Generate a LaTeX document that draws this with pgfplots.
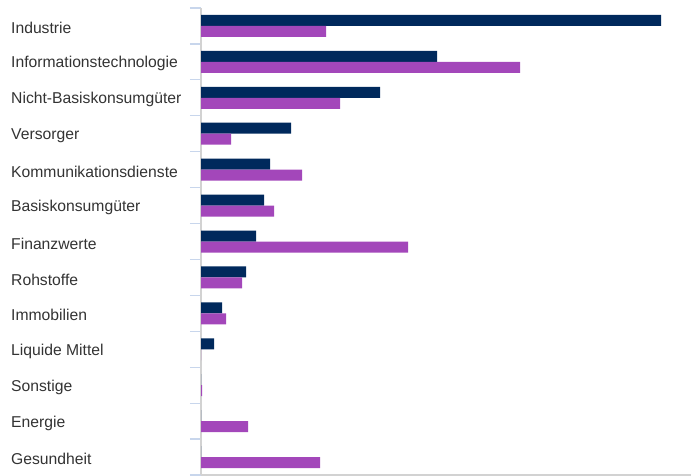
\documentclass[border=0pt]{standalone}
\usepackage{pgfplots}
\pgfplotsset{compat=1.18}
\usepackage{fontspec}
\setmainfont{Liberation Sans}
\definecolor{navy}{RGB}{0,41,92}
\definecolor{purp}{RGB}{163,71,186}
\definecolor{tickblue}{RGB}{200,214,236}
\definecolor{axgray}{RGB}{210,210,210}
\definecolor{txt}{RGB}{51,51,51}
\begin{document}
\begin{tikzpicture}
\useasboundingbox (0,0) rectangle (695bp,476bp);
\begin{axis}[
  at={(201bp,1bp)}, anchor=south west,
  scale only axis,
  width=490bp, height=467bp,
  xmin=0, xmax=490,
  ymin=-0.5, ymax=12.5,
  y dir=reverse,
  xbar, bar width=11bp,
  axis x line*=bottom, axis y line*=left,
  axis line style={-, axgray, line width=1.2bp},
  xtick=\empty,
  ytick={0,...,12},
  yticklabels={Industrie,Informationstechnologie,Nicht-Basiskonsumgüter,Versorger,Kommunikationsdienste,Basiskonsumgüter,Finanzwerte,Rohstoffe,Immobilien,Liquide Mittel,Sonstige,Energie,Gesundheit},
  yticklabel style={anchor=west, inner sep=0pt, xshift=-190bp, yshift=-2bp, font=\fontsize{15.7bp}{18bp}\selectfont, text=txt},
  minor ytick={-0.5,0.5,...,12.5},
  major tick length=0pt,
  minor tick length=11bp,
  tick align=outside,
  ytick pos=left,
  minor tick style={tickblue, line width=1.2bp},
]
\addplot[fill=navy, draw=none, bar shift=5.5bp] coordinates {
(460,0) (236,1) (179,2) (90,3) (69,4) (63,5) (55,6) (45,7) (21,8) (13,9) (0,10) (0,11) (0,12)};
\addplot[fill=purp, draw=none, bar shift=-5.5bp] coordinates {
(125,0) (319,1) (139,2) (30,3) (101,4) (73,5) (207,6) (41,7) (25,8) (0,9) (1,10) (47,11) (119,12)};
\end{axis}
\end{tikzpicture}
\end{document}
